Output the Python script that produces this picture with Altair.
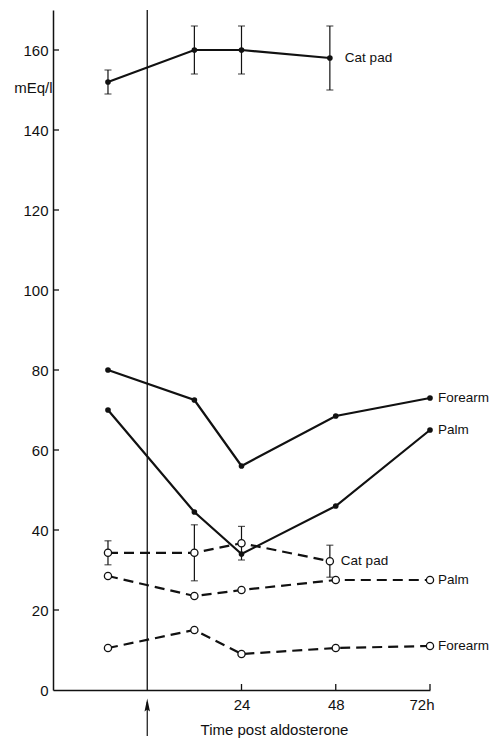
import altair as alt
import pandas as pd

# ---- data ----
hours = [-10, 12, 24, 48, 72]          # forearm / palm sampling times (h)
cat_hours = [-10, 12, 24, 46.5]        # cat pad sampling times (h)

catpad_solid = [152, 160, 160, 158]
catpad_solid_err = [3, 6, 6, 8]
forearm_solid = [80, 72.5, 56, 68.5, 73]
palm_solid = [70, 44.5, 34, 46, 65]

catpad_dashed = [34.3, 34.3, 36.7, 32.2]
catpad_dashed_err = [3, 7, 4.2, 4]
palm_dashed = [28.5, 23.5, 25, 27.5, 27.5]
forearm_dashed = [10.5, 15, 9, 10.5, 11]

x_ticks = [24, 48, 72]
y_ticks = [0, 20, 40, 60, 80, 100, 120, 140, 160]

FONT = "Liberation Sans, Arial, sans-serif"
INK = "#111111"

rows = []
def add(sid, name, style, xs, ys, errs=None):
    for i, (x, y) in enumerate(zip(xs, ys)):
        e = errs[i] if errs is not None else None
        rows.append(dict(sid=sid, name=name, style=style, t=x, v=y,
                         lo=(y - e) if e is not None else None,
                         hi=(y + e) if e is not None else None,
                         last=(i == len(xs) - 1)))

add("cs", "Cat pad", "solid", cat_hours, catpad_solid, catpad_solid_err)
add("fs", "Forearm", "solid", hours, forearm_solid)
add("ps", "Palm", "solid", hours, palm_solid)
add("cd", "Cat pad", "dashed", cat_hours, catpad_dashed, catpad_dashed_err)
add("pd", "Palm", "dashed", hours, palm_dashed)
add("fd", "Forearm", "dashed", hours, forearm_dashed)
df = pd.DataFrame(rows)

W, H = 377, 680
xscale = alt.Scale(domain=[-24, 72], nice=False, zero=False)
yscale = alt.Scale(domain=[0, 170], nice=False)

base = alt.Chart(df)

X = alt.X("t:Q", scale=xscale, axis=alt.Axis(
    values=x_ticks, ticks=False, grid=False, domainColor=INK, domainWidth=1.5,
    labelExpr="datum.value == 72 ? '72h' : datum.label",
    labelOffset=alt.expr("datum.value == 72 ? 4 : 0"),
    labelFont=FONT, labelFontSize=15, labelColor=INK, labelPadding=7,
    title="Time  post aldosterone", titleFont=FONT, titleFontSize=15,
    titleFontWeight="normal", titleColor=INK, titleX=221, titleY=39,
    titleBaseline="middle", titleAlign="center"))
Y = alt.Y("v:Q", scale=yscale, axis=alt.Axis(
    values=y_ticks, ticks=False, grid=False, domainColor=INK, domainWidth=1.5,
    labelFont=FONT, labelFontSize=15, labelColor=INK, labelPadding=5,
    title="mEq/l", titleAngle=0, titleAlign="right", titleBaseline="middle",
    titleX=-1, titleY=77, titleFont=FONT, titleFontSize=15,
    titleFontWeight="normal", titleColor=INK))

solid_lines = base.transform_filter("datum.style == 'solid'").mark_line(
    color=INK, strokeWidth=2.2).encode(x=X, y=Y, detail="sid:N", order="t:Q")
dashed_lines = base.transform_filter("datum.style == 'dashed'").mark_line(
    color=INK, strokeWidth=2.2, strokeDash=[10, 6]).encode(
    x="t:Q", y="v:Q", detail="sid:N", order="t:Q")

err = base.transform_filter("datum.lo != null")
err_rule = err.mark_rule(color=INK, strokeWidth=1.2).encode(
    x="t:Q", y="lo:Q", y2="hi:Q")
cap_lo = err.mark_tick(color=INK, orient="horizontal", size=7, thickness=1.2).encode(
    x="t:Q", y="lo:Q")
cap_hi = err.mark_tick(color=INK, orient="horizontal", size=7, thickness=1.2).encode(
    x="t:Q", y="hi:Q")

filled_pts = base.transform_filter("datum.style == 'solid'").mark_circle(
    color=INK, size=32, opacity=1).encode(x="t:Q", y="v:Q")
open_pts = base.transform_filter("datum.style == 'dashed'").mark_point(
    shape="circle", filled=True, fill="white", stroke=INK, strokeWidth=1.3,
    size=52, opacity=1).encode(x="t:Q", y="v:Q")

def label(flt, dx):
    return base.transform_filter("datum.last").transform_filter(flt).mark_text(
        align="left", baseline="middle", dx=dx, font=FONT, fontSize=13.5,
        color=INK).encode(x="t:Q", y="v:Q", text="name:N")

labels = (label("datum.sid == 'cs'", 15) + label("datum.sid == 'cd'", 11)
          + label("datum.sid != 'cs' && datum.sid != 'cd'", 8))

# inward tick marks
ytick_df = pd.DataFrame({"v": y_ticks[1:]})
xtick_df = pd.DataFrame({"t": x_ticks})
yticks = alt.Chart(ytick_df).mark_rule(color=INK, strokeWidth=1.3).encode(
    y="v:Q", x=alt.value(0), x2=alt.value(6))
xticks = alt.Chart(xtick_df).mark_rule(color=INK, strokeWidth=1.3).encode(
    x="t:Q", y=alt.value(H), y2=alt.value(H - 6))

# aldosterone time marker (t = 0) and arrow under the axis
marker_df = pd.DataFrame({"t": [0]})
vline = alt.Chart(marker_df).mark_rule(color=INK, strokeWidth=1.3).encode(
    x="t:Q", y=alt.value(0), y2=alt.value(H))
arrow_shaft = alt.Chart(marker_df).mark_rule(color=INK, strokeWidth=1.2).encode(
    x="t:Q", y=alt.value(H + 12), y2=alt.value(H + 46))
arrow_head = alt.Chart(marker_df).mark_point(
    shape="M0,-1L0.42,1L0,0.7L-0.42,1Z", filled=True, color=INK, size=170,
    opacity=1).encode(x="t:Q", y=alt.value(H + 15))

chart = alt.layer(
    solid_lines, dashed_lines, vline, err_rule, cap_lo, cap_hi,
    filled_pts, open_pts, labels, yticks, xticks, arrow_shaft, arrow_head
).properties(
    width=W, height=H,
    padding={"left": 45, "top": 2, "right": 59, "bottom": 49},
    autosize=alt.AutoSizeParams(type="none"),
    background="white",
).configure_view(stroke="transparent", strokeWidth=0)

chart.save("out.html", embed_options={"renderer": "svg", "actions": False})
